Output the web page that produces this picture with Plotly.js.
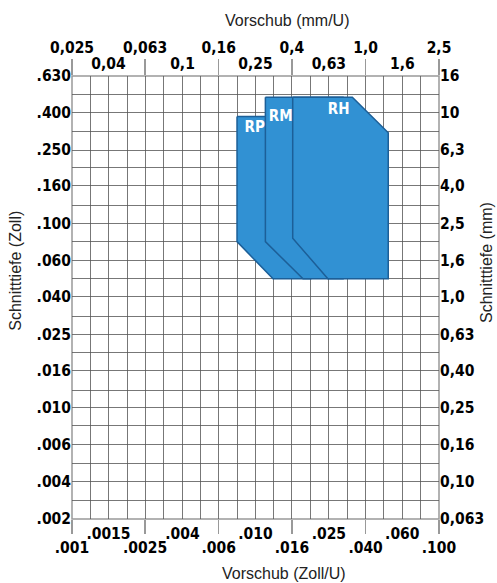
<!DOCTYPE html>
<html><head><meta charset="utf-8">
<script src="https://cdn.plot.ly/plotly-3.0.1.min.js"></script>
<style>html,body{margin:0;padding:0;background:#fff}#chart{width:497px;height:583px}</style>
</head><body><div id="chart"></div>
<script>
// ---- data (inch values) ----
const gridFeedZoll = [0.001,0.00126,0.00158,0.002,0.00251,0.00316,0.00398,0.00501,0.00631,0.00794,0.01,0.0126,0.0158,0.02,0.0251,0.0316,0.0398,0.0501,0.0631,0.0794,0.1];
const gridDepthZoll = [0.63,0.5,0.4,0.315,0.25,0.2,0.16,0.125,0.1,0.08,0.063,0.05,0.04,0.0315,0.025,0.02,0.016,0.0125,0.01,0.008,0.0063,0.005,0.004,0.00315,0.0025];

const bottomLowerVals = [0.001,0.0025,0.0063,0.0158,0.0398,0.1];
const bottomLowerText = ['.001','.0025','.006','.016','.040','.100'];
const bottomUpperVals = [0.00158,0.004,0.01,0.0251,0.0631];
const bottomUpperText = ['.0015','.004','.010','.025','.060'];
const topUpperVals = [0.001,0.0025,0.0063,0.0158,0.0398,0.1];
const topUpperText = ['0,025','0,063','0,16','0,4','1,0','2,5'];
const topLowerVals = [0.00158,0.004,0.01,0.0251,0.0631];
const topLowerText = ['0,04','0,1','0,25','0,63','1,6'];

const depthVals = [0.63,0.4,0.25,0.16,0.1,0.063,0.04,0.025,0.016,0.01,0.0063,0.004,0.0025];
const depthTextZoll = ['.630','.400','.250','.160','.100','.060','.040','.025','.016','.010','.006','.004','.002'];
const depthTextMm = ['16','10','6,3','4,0','2,5','1,6','1,0','0,63','0,40','0,25','0,16','0,10','0,063'];

// application areas (feed Zoll/U, depth Zoll)
const rpFeed  = [0.00793,0.0200,0.0200,0.01246,0.00793,0.00793];
const rpDepth = [0.380,0.380,0.0501,0.0501,0.0797,0.380];
const rmFeed  = [0.01132,0.0300,0.0300,0.01815,0.01132,0.01132];
const rmDepth = [0.483,0.483,0.0501,0.0501,0.0797,0.483];
const rhFeed  = [0.01595,0.0337,0.0529,0.0529,0.0248,0.01595,0.01595];
const rhDepth = [0.483,0.483,0.310,0.0501,0.0501,0.0832,0.483];
const labelNames = ['RP','RM','RH'];
const labelFeed  = [0.0099,0.01372,0.0284];
const labelDepth = [0.329,0.378,0.412];

const xr = [-3,-1];
const yr = [Math.log10(0.0025), Math.log10(0.63)];
const tickFont = {family:'DejaVu Sans Condensed, DejaVu Sans, sans-serif', size:15.5, color:'#000', weight:'bold'};
const titleFont = {family:'Liberation Sans Narrow, Liberation Sans, sans-serif', size:16, color:'#222'};
const fillCol = '#3191d3', edgeCol = '#1c5f98';

function poly(x,y){return {type:'scatter',x:x,y:y,mode:'lines',fill:'toself',fillcolor:fillCol,line:{color:edgeCol,width:1.5},hoverinfo:'skip',xaxis:'x',yaxis:'y'};}
const traces = [
  poly(rpFeed,rpDepth), poly(rmFeed,rmDepth), poly(rhFeed,rhDepth),
  {type:'scatter',x:labelFeed,y:labelDepth,mode:'text',text:labelNames,textfont:{family:'DejaVu Sans Condensed, DejaVu Sans, sans-serif',size:15,color:'#fff',weight:'bold'},hoverinfo:'skip',xaxis:'x',yaxis:'y'}
];

const baseX = {type:'log',range:xr,fixedrange:true,zeroline:false,showgrid:false,showline:false};
const baseY = {type:'log',range:yr,fixedrange:true,zeroline:false,showgrid:false,showline:false};

const layout = {
  width:497,height:583,
  margin:{l:72,r:58,t:76,b:64},
  paper_bgcolor:'#fff',plot_bgcolor:'#fff',
  showlegend:false,hovermode:false,
  xaxis: Object.assign({},baseX,{side:'bottom',anchor:'y',tickmode:'array',tickvals:bottomLowerVals,ticktext:bottomLowerText,ticks:'outside',ticklen:14,tickwidth:1.5,tickcolor:'#999',tickfont:tickFont}),
  xaxis2: Object.assign({},baseX,{overlaying:'x',side:'bottom',anchor:'y',tickmode:'array',tickvals:bottomUpperVals,ticktext:bottomUpperText,ticks:'',tickfont:tickFont,ticklabelstandoff:3}),
  xaxis3: Object.assign({},baseX,{overlaying:'x',side:'top',anchor:'y',tickmode:'array',tickvals:topUpperVals,ticktext:topUpperText,ticks:'outside',ticklen:16,tickwidth:1.5,tickcolor:'#999',tickfont:tickFont}),
  xaxis4: Object.assign({},baseX,{overlaying:'x',side:'top',anchor:'y',tickmode:'array',tickvals:topLowerVals,ticktext:topLowerText,ticks:'',tickfont:tickFont,ticklabelstandoff:3}),
  xaxis5: Object.assign({},baseX,{overlaying:'x',side:'bottom',anchor:'y',tickmode:'array',tickvals:gridFeedZoll,showticklabels:false,ticks:'',showgrid:true,gridcolor:'#555',gridwidth:0.8,layer:'below traces'}),
  yaxis: Object.assign({},baseY,{side:'left',anchor:'x',tickmode:'array',tickvals:depthVals,ticktext:depthTextZoll,ticks:'',tickfont:tickFont}),
  yaxis2: Object.assign({},baseY,{overlaying:'y',side:'right',anchor:'x',tickmode:'array',tickvals:depthVals,ticktext:depthTextMm,ticks:'',tickfont:tickFont}),
  yaxis3: Object.assign({},baseY,{overlaying:'y',side:'left',anchor:'x',tickmode:'array',tickvals:gridDepthZoll,showticklabels:false,ticks:'',showgrid:true,gridcolor:'#555',gridwidth:0.8}),
  shapes:[{type:'rect',xref:'paper',yref:'paper',x0:0,x1:1,y0:0,y1:1,line:{color:'#999',width:1.5},layer:'below'}],
  annotations:[
    {text:'Vorschub (mm/U)',xref:'paper',yref:'paper',x:0.587,y:1.126,xanchor:'center',yanchor:'middle',showarrow:false,font:titleFont},
    {text:'Vorschub (Zoll/U)',xref:'paper',yref:'paper',x:0.578,y:-0.124,xanchor:'center',yanchor:'middle',showarrow:false,font:titleFont},
    {text:'Schnitttiefe (Zoll)',xref:'paper',yref:'paper',x:-0.153,y:0.56,textangle:-90,xanchor:'center',yanchor:'middle',showarrow:false,font:titleFont},
    {text:'Schnitttiefe (mm)',xref:'paper',yref:'paper',x:1.131,y:0.578,textangle:-90,xanchor:'center',yanchor:'middle',showarrow:false,font:titleFont}
  ]
};
// invisible anchor traces so the overlay axes are drawn
const dummy = [['x2','y'],['x3','y'],['x4','y'],['x5','y3'],['x','y2']].map(p=>({type:'scatter',x:[0.01],y:[0.01],mode:'markers',marker:{opacity:0},hoverinfo:'skip',xaxis:p[0],yaxis:p[1]}));
Plotly.newPlot('chart', dummy.concat(traces), layout, {staticPlot:true,displayModeBar:false});
</script></body></html>
